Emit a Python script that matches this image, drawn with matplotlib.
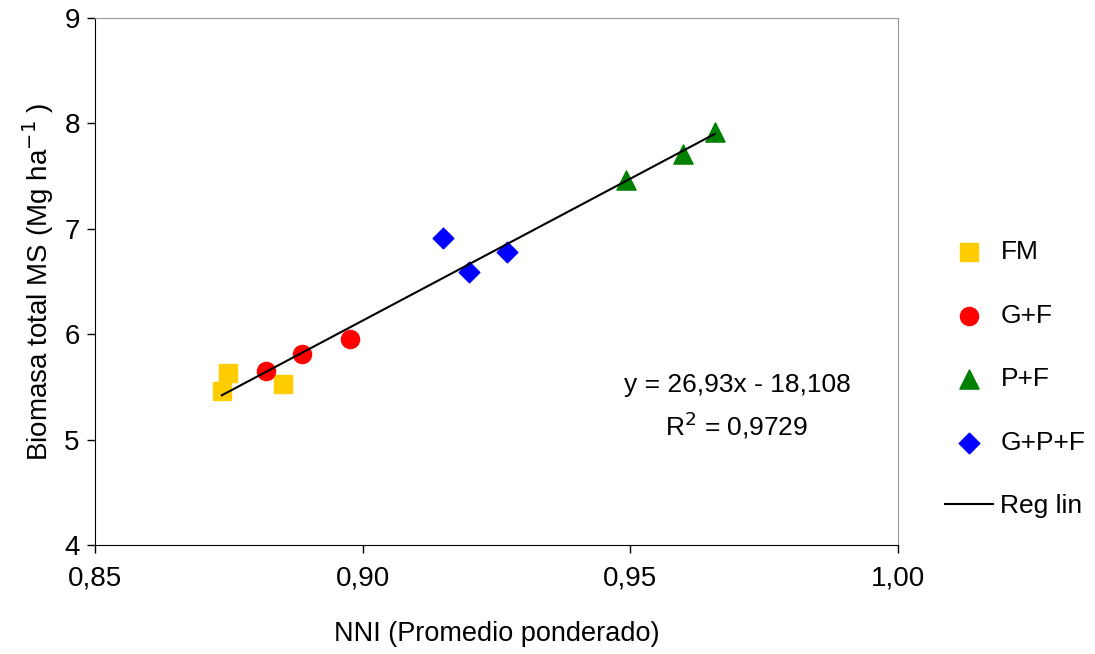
import numpy as np
import matplotlib.pyplot as plt

plt.rcParams['font.family'] = ['Liberation Sans', 'DejaVu Sans']

# data
fm_x = [0.8737, 0.8748, 0.8851]
fm_y = [5.46, 5.63, 5.53]
gf_x = [0.8819, 0.8887, 0.8976]
gf_y = [5.65, 5.81, 5.95]
pf_x = [0.9492, 0.9598, 0.9658]
pf_y = [7.46, 7.71, 7.92]
gpf_x = [0.9150, 0.9199, 0.9270]
gpf_y = [6.91, 6.59, 6.78]

slope = 26.93
intercept = -18.108
r2_text = "0,9729"

fig = plt.figure(figsize=(10.95, 6.54), dpi=100)
ax = fig.add_axes([0.0868, 0.1667, 0.7333, 0.8058])

ax.scatter(fm_x, fm_y, marker='s', s=150, color='#FFCC00', label='FM', zorder=3)
ax.scatter(gf_x, gf_y, marker='o', s=170, color='#FF0000', label='G+F', zorder=3)
ax.scatter(pf_x, pf_y, marker='^', s=190, color='#008000', label='P+F', zorder=3)
ax.scatter(gpf_x, gpf_y, marker='D', s=110, color='#0000FF', label='G+P+F', zorder=3)

allx = fm_x + gf_x + pf_x + gpf_x
xl = np.array([min(allx), max(allx)])
ax.plot(xl, slope * xl + intercept, color='black', lw=1.5, label='Reg lin', zorder=4)

ax.set_xlim(0.85, 1.00)
ax.set_ylim(4, 9)
ax.set_xticks([0.85, 0.90, 0.95, 1.00])
ax.set_xticklabels(['0,85', '0,90', '0,95', '1,00'])
ax.set_yticks([4, 5, 6, 7, 8, 9])
ax.tick_params(direction='out', length=6, labelsize=20, width=1)
ax.tick_params(axis='x', pad=9)
ax.tick_params(axis='y', pad=5)

for s in ['top', 'right']:
    ax.spines[s].set_color('#999999')
ax.spines['left'].set_color('black')
ax.spines['bottom'].set_color('black')

ax.set_xlabel('NNI (Promedio ponderado)', fontsize=19.5, labelpad=21)
ax.set_ylabel('Biomasa total MS (Mg ha$^{-1}$ )', fontsize=20, labelpad=6)

eq = 'y = %sx - %s' % (str(slope).replace('.', ','), str(-intercept).replace('.', ','))
ax.text(0.9699, 5.518, eq, fontsize=19, ha='center', va='center')
ax.text(0.9699, 5.139, 'R$^2$ = ' + r2_text, fontsize=19, ha='center', va='center')

# legend sitting to the right of the plot
ax.legend(loc='upper left', bbox_to_anchor=(945 / 1095, 1 - 240 / 654),
          bbox_transform=fig.transFigure, frameon=False, borderpad=0,
          borderaxespad=0, fontsize=19, labelspacing=1.5, handlelength=1.8,
          handletextpad=0.3, scatterpoints=1)

fig.savefig('out.png', dpi=100)
